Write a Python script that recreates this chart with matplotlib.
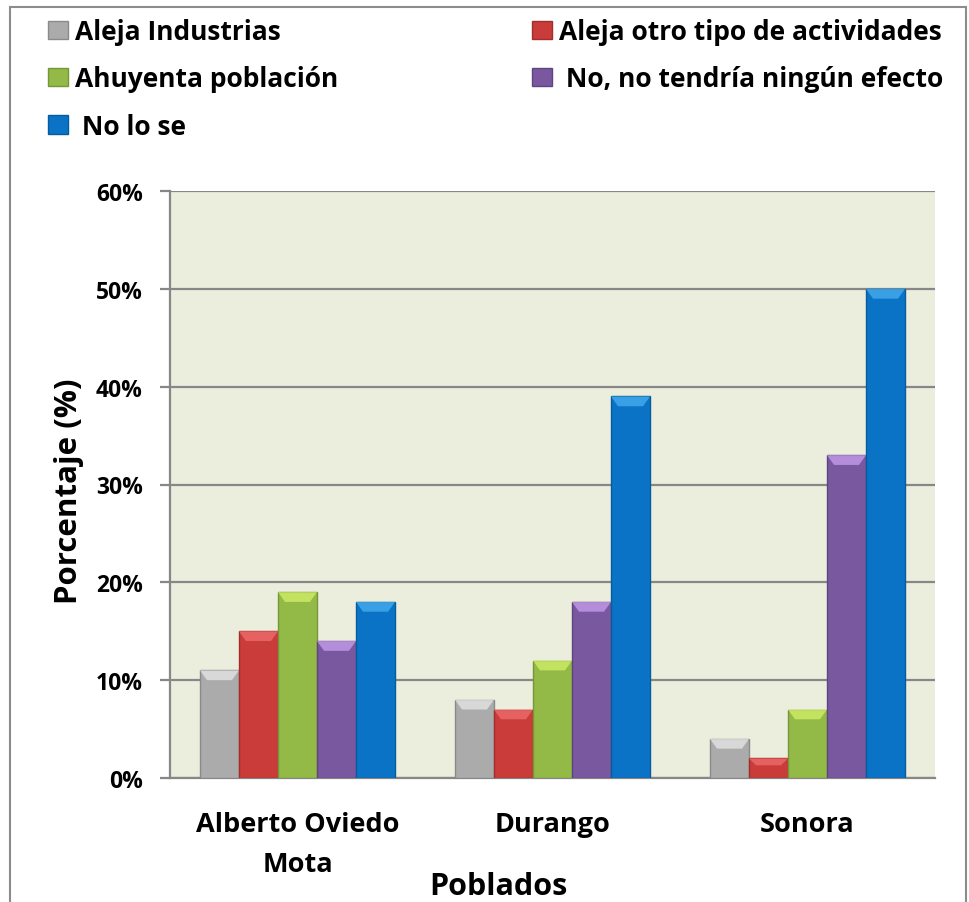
import matplotlib
matplotlib.use("Agg")
import matplotlib.pyplot as plt
import numpy as np
from matplotlib.patches import Rectangle
from matplotlib.ticker import FuncFormatter

categories = ["Alberto Oviedo\nMota", "Durango", "Sonora"]
series_names = ["Aleja Industrias", "Aleja otro tipo de actividades",
                "Ahuyenta población", " No, no tendría ningún efecto", " No lo se"]
aleja_industrias = [11, 8, 4]
aleja_otro = [15, 7, 2]
ahuyenta = [19, 12, 7]
no_efecto = [14, 18, 33]
no_lo_se = [18, 39, 50]
series_values = [aleja_industrias, aleja_otro, ahuyenta, no_efecto, no_lo_se]
colors = ["#ABABAB", "#C93C39", "#93B946", "#7A58A0", "#0A73C6"]
edge_colors = ["#8A8A8A", "#A02E2C", "#76963A", "#5F4580", "#075C9E"]
top_colors = ["#E8E8E8", "#F07070", "#D2F06A", "#C8A0F0", "#4AB0F0"]
yticks = [0, 10, 20, 30, 40, 50, 60]

plt.rcParams['font.family'] = ['Open Sans', 'DejaVu Sans']
plt.rcParams['font.weight'] = 'bold'

fig = plt.figure(figsize=(9.69, 9.03), dpi=100)
ax = fig.add_axes([170/969, 1-779/903, (935-170)/969, (779-192)/903])
ax.set_facecolor("#EBEEDD")

x = np.arange(len(categories))
w = 0.153
handles = []
for i, (vals, c, ec, tc) in enumerate(zip(series_values, colors, edge_colors, top_colors)):
    pos = x + (i - 2) * w
    b = ax.bar(pos, vals, width=w, color=c, edgecolor=ec, linewidth=1.0, zorder=3,
               label=series_names[i])
    for p, v in zip(pos, vals):
        cap = min(1.0, v * 0.35)
        ax.fill([p - w/2, p + w/2, p + w/2 - w*0.18, p - w/2 + w*0.18],
                [v, v, v - cap, v - cap], color=tc, alpha=0.75, zorder=4, lw=0)
    handles.append(b)

ax.set_xlim(-0.5, 2.5)
ax.set_ylim(0, 60)
ax.set_yticks(yticks)
ax.yaxis.set_major_formatter(FuncFormatter(lambda v, p: f"{int(v)}%"))
ax.grid(axis='y', color="#878787", linewidth=1.6, zorder=1)
ax.set_axisbelow(True)
for s in ["top", "right"]:
    ax.spines[s].set_visible(False)
ax.spines["left"].set_color("#878787")
ax.spines["left"].set_linewidth(1.6)
ax.spines["bottom"].set_color("#878787")
ax.spines["bottom"].set_linewidth(1.6)
ax.tick_params(axis='y', length=7, width=1.6, color="#878787", labelsize=16.5, pad=12.5)
ax.tick_params(axis='x', length=0, labelsize=19.5, pad=24)
ax.set_xticks(x)
ax.set_xticklabels(categories, fontweight='bold', linespacing=1.68)
for lab in ax.get_yticklabels():
    lab.set_fontweight('bold')

ax.set_ylabel("Porcentaje (%)", fontsize=22.5, fontweight='bold')
ax.yaxis.set_label_coords(-0.112, 0.49)
fig.text(498/969, 8/903, "Poblados", fontsize=22, fontweight='bold',
         ha='center', va='baseline')

leg_kw = dict(loc='upper left', frameon=False, handlelength=0.76, handleheight=0.7,
              handletextpad=0.27, labelspacing=0.77, borderpad=0, borderaxespad=0,
              prop={'weight': 'bold', 'size': 19})
leg1 = fig.legend([handles[0], handles[2], handles[4]],
                  [series_names[0], series_names[2], series_names[4]],
                  bbox_to_anchor=(48/969, 1-19/903), **leg_kw)
leg2 = fig.legend([handles[1], handles[3]],
                  [series_names[1], series_names[3]],
                  bbox_to_anchor=(532/969, 1-19/903), **leg_kw)

fig.patches.append(Rectangle((10/969, -0.01), (966-10)/969, 1-8/903 + 0.01,
                             transform=fig.transFigure, fill=False,
                             edgecolor="#8C8C8C", linewidth=1.5))

fig.savefig("out.png", dpi=100)
